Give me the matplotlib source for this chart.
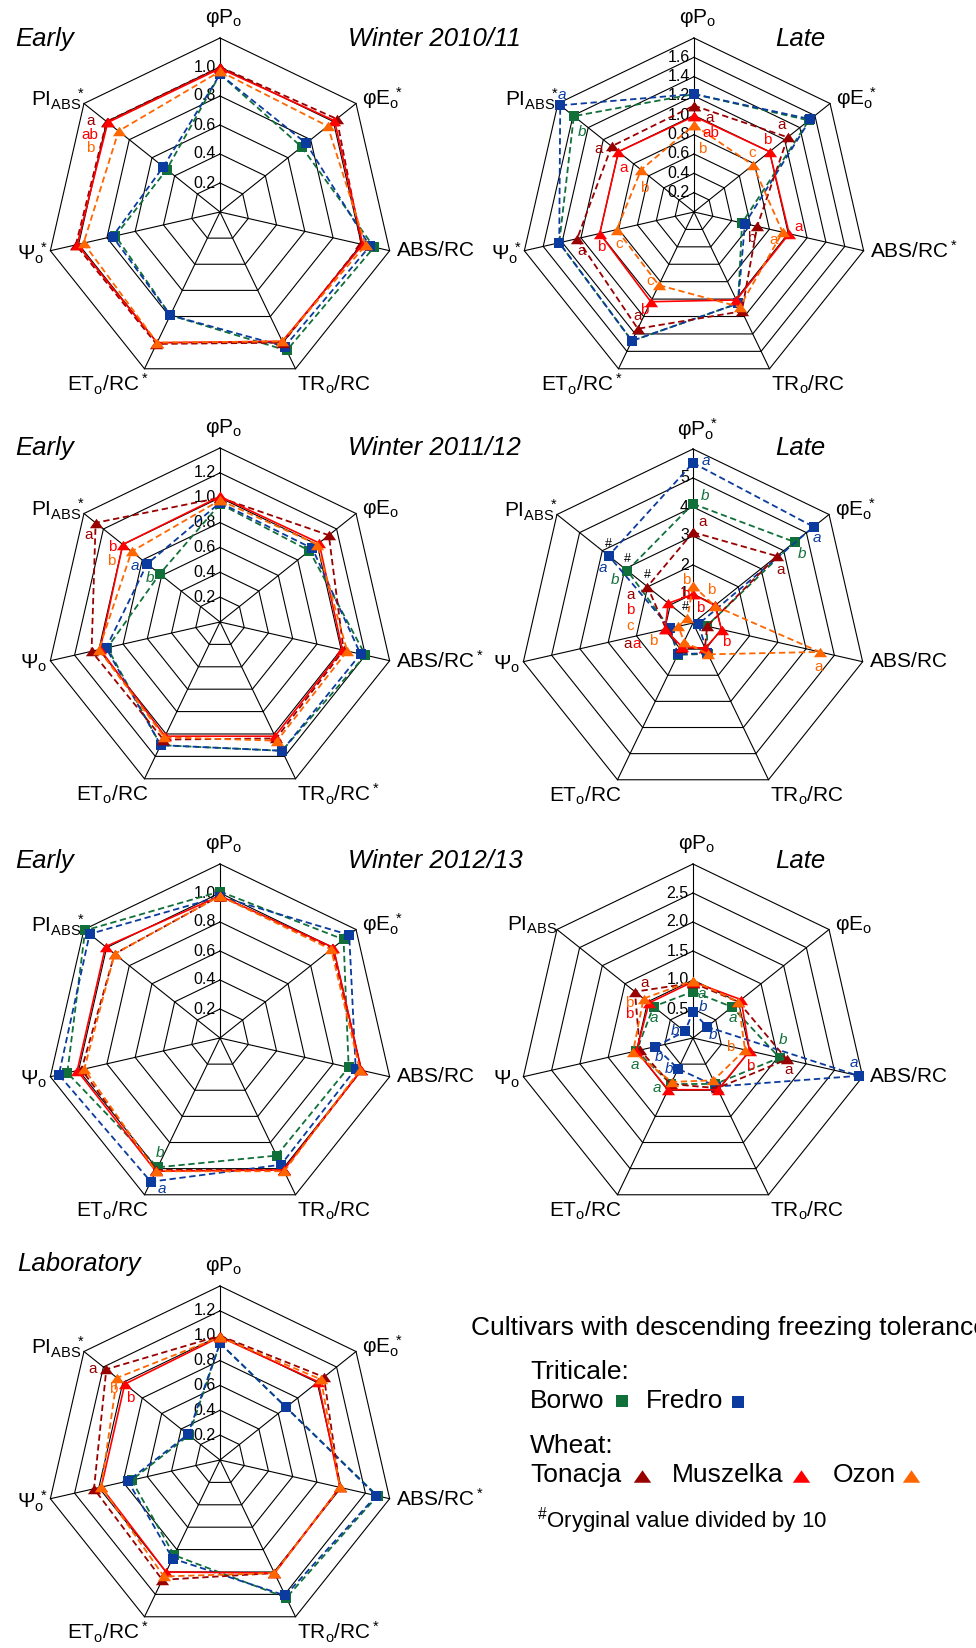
import numpy as np
import matplotlib.pyplot as plt
from matplotlib.lines import Line2D

plt.rcParams['font.family'] = ['Liberation Sans', 'DejaVu Sans']
plt.rcParams['mathtext.fontset'] = 'custom'
plt.rcParams['mathtext.rm'] = 'Liberation Sans'
plt.rcParams['mathtext.it'] = 'Liberation Sans:italic'
plt.rcParams['mathtext.default'] = 'regular'

W, H = 976, 1648
R = 174  # radius of the outer heptagon in pixels

# axes: φPo, φEo, ABS/RC, TRo/RC, ETo/RC, Ψo, PIABS (clockwise from the top)
# rows: Borwo, Fredro, Tonacja, Muszelka, Ozon
cultivars = ['Borwo', 'Fredro', 'Tonacja', 'Muszelka', 'Ozon']

early_1011 = [[0.95, 0.72, 1.09, 1.06, 0.79, 0.74, 0.47],
              [0.95, 0.76, 1.06, 1.03, 0.79, 0.76, 0.50],
              [1.00, 1.03, 1.00, 1.00, 1.01, 1.02, 1.00],
              [0.99, 1.01, 1.01, 0.99, 1.00, 1.01, 0.99],
              [0.97, 0.95, 1.03, 0.99, 1.00, 0.965, 0.895]]

late_1011 = [[1.22, 1.52, 0.51, 1.05, 1.48, 1.43, 1.59],
             [1.22, 1.54, 0.54, 1.05, 1.48, 1.43, 1.77],
             [1.10, 1.24, 0.67, 1.14, 1.34, 1.24, 1.09],
             [0.99, 1.00, 1.01, 1.01, 1.03, 1.00, 1.00],
             [0.90, 0.78, 0.94, 1.09, 0.84, 0.82, 0.70]]

early_1112 = [[0.95, 0.92, 1.20, 1.15, 1.10, 0.93, 0.62],
              [0.96, 0.95, 1.16, 1.15, 1.10, 0.94, 0.75],
              [1.00, 1.12, 1.02, 1.04, 1.05, 1.06, 1.28],
              [1.01, 1.02, 1.01, 1.02, 1.02, 0.99, 1.00],
              [0.98, 1.00, 1.05, 1.06, 1.03, 1.00, 0.91]]

late_1112 = [[4.11, 4.48, 0.48, 1.18, 1.22, 0.82, 2.90],
             [5.52, 5.32, 0.19, 1.15, 1.20, 0.81, 3.72],
             [3.13, 3.70, 0.50, 0.95, 0.97, 0.95, 2.01],
             [0.99, 0.97, 1.01, 0.97, 0.90, 0.99, 1.09],
             [1.29, 0.95, 4.48, 1.20, 0.71, 0.52, 0.25]]

early_1213 = [[1.01, 1.09, 0.91, 0.90, 0.99, 1.08, 1.19],
              [0.975, 1.14, 0.96, 0.97, 1.10, 1.14, 1.15],
              [0.98, 0.99, 1.00, 1.01, 1.01, 0.98, 0.93],
              [0.98, 1.00, 1.00, 1.01, 1.02, 1.01, 1.01],
              [0.98, 0.98, 0.99, 1.02, 1.02, 0.96, 0.93]]

late_1213 = [[0.80, 0.86, 1.53, 0.88, 0.88, 1.00, 0.87],
             [0.45, 0.31, 2.93, 0.93, 0.59, 0.67, 0.18],
             [0.95, 1.00, 1.66, 0.96, 0.88, 0.94, 1.28],
             [0.97, 1.06, 1.00, 0.99, 0.99, 1.00, 0.97],
             [0.99, 1.00, 0.92, 0.81, 0.84, 1.06, 1.09]]

laboratory = [[0.94, 0.68, 1.30, 1.23, 0.85, 0.73, 0.32],
              [0.94, 0.68, 1.29, 1.21, 0.88, 0.76, 0.33],
              [1.00, 1.07, 0.99, 1.01, 1.07, 1.04, 1.17],
              [0.99, 1.01, 0.99, 1.01, 1.00, 0.98, 0.98],
              [0.99, 1.04, 0.99, 1.01, 1.04, 0.98, 1.06]]

# significance letters: (cultivar, axis, letter, dx px, dy px downwards)
letters_early_1011 = [('Tonacja', 6, 'a', -16, -1), ('Muszelka', 6, 'ab', -18, 13), ('Ozon', 6, 'b', -28, 17)]
letters_late_1011 = [('Tonacja', 0, 'a', 16, 12), ('Muszelka', 0, 'ab', 17, 17), ('Ozon', 0, 'b', 8, 24),
                     ('Tonacja', 1, 'a', -6, -12), ('Muszelka', 1, 'b', -2, -12), ('Ozon', 1, 'c', -1, -12),
                     ('Muszelka', 2, 'a', 9, -7), ('Ozon', 2, 'a', -9, 8), ('Tonacja', 2, 'b', -6, 12),
                     ('Fredro', 6, 'a', 2, -10), ('Borwo', 6, 'b', 8, 16), ('Tonacja', 6, 'a', -13, 3),
                     ('Muszelka', 6, 'a', 5, 16), ('Ozon', 6, 'b', 3, 18),
                     ('Tonacja', 5, 'a', 4, 12), ('Muszelka', 5, 'b', 1, 13), ('Ozon', 5, 'c', 2, 14),
                     ('Tonacja', 4, 'a', 0, -13), ('Muszelka', 4, 'b', -7, 8), ('Ozon', 4, 'c', -9, -4)]
letters_early_1112 = [('Tonacja', 6, 'a', -7, 12), ('Muszelka', 6, 'b', -11, 2), ('Ozon', 6, 'b', -20, 10),
                      ('Fredro', 6, 'a', -12, 2), ('Borwo', 6, 'b', -10, 4)]
letters_late_1112 = [('Fredro', 0, 'a', 13, -2), ('Borwo', 0, 'b', 12, -8), ('Tonacja', 0, 'a', 10, -10),
                     ('Fredro', 1, 'a', 3, 11), ('Borwo', 1, 'b', 7, 12), ('Tonacja', 1, 'a', 4, 14),
                     ('Fredro', 6, 'a', -6, 12), ('Borwo', 6, 'b', -12, 9), ('Tonacja', 6, 'a', -17, 8),
                     ('Muszelka', 6, 'b', -38, 7), ('Ozon', 6, 'c', -57, 8),
                     ('Ozon', 0, 'b', -7, -6), ('Muszelka', 0, 'b', -8, 0),
                     ('Ozon', 1, 'b', -3, -16), ('Muszelka', 1, 'b', -15, 3),
                     ('Muszelka', 2, 'b', 5, 12), ('Ozon', 2, 'a', -1, 15),
                     ('Tonacja', 5, 'a', -39, 15), ('Muszelka', 5, 'a', -28, 15), ('Ozon', 5, 'b', -25, 15)]
hashes_late_1112 = [('Fredro', 6, 0, -12), ('Borwo', 6, 0, -12), ('Tonacja', 6, 0, -12), ('Ozon', 6, -2, -11)]
letters_early_1213 = [('Borwo', 4, 'b', 2, -14), ('Fredro', 4, 'a', 11, 7)]
letters_late_1213 = [('Tonacja', 6, 'a', 10, -9), ('Ozon', 6, 'b', -14, 4), ('Muszelka', 6, 'b', -20, 11),
                     ('Borwo', 6, 'a', 0, 11), ('Fredro', 6, 'b', -10, 0),
                     ('Borwo', 0, 'a', 9, 2), ('Fredro', 0, 'b', 10, -5),
                     ('Borwo', 1, 'a', 1, 11), ('Fredro', 1, 'b', 6, 8),
                     ('Borwo', 2, 'b', 4, -18), ('Tonacja', 2, 'a', 2, 11), ('Fredro', 2, 'a', -5, -13),
                     ('Muszelka', 2, 'b', 1, 15), ('Ozon', 2, 'b', -15, -3),
                     ('Fredro', 5, 'b', 4, 10), ('Borwo', 5, 'a', -2, 14),
                     ('Fredro', 4, 'b', -9, 0), ('Borwo', 4, 'a', -14, 4)]
letters_laboratory = [('Tonacja', 6, 'a', -14, 0), ('Ozon', 6, 'b', -4, 11), ('Muszelka', 6, 'b', 5, 14)]

colors = {'Borwo': '#11703a', 'Fredro': '#0b3b9e', 'Tonacja': '#990000',
          'Muszelka': '#ff0000', 'Ozon': '#ff6600'}
tri = [(-1, -0.72), (1, -0.72), (0, 0.72)]
angles = np.arange(7) * 2 * np.pi / 7

base_labels = ['φP_o', 'φE_o', 'ABS/RC', 'TR_o/RC', 'ET_o/RC', 'Ψ_o', 'PI_{ABS}']
# label placement (ha, dx px, dy px up) relative to the outer vertex
label_pos = [('center', 4, 20), ('left', 6, 5), ('left', 6, 0), ('left', 2, -16),
             ('right', 4, -16), ('right', -3, -3), ('right', 1, 4)]

fig = plt.figure(figsize=(W / 100, H / 100), dpi=100)


def radar(cx, cy, table, rmax, step, fmt, stars, letters, hashes=()):
    ax = fig.add_axes([(cx - R) / W, (H - cy - R) / H, 2 * R / W, 2 * R / H], projection='polar')
    ax.set_theta_zero_location('N')
    ax.set_theta_direction(-1)
    ax.set_ylim(0, rmax)
    ax.set_axis_off()
    closed = np.append(angles, angles[0])
    rings = np.arange(1, round(rmax / step) + 1) * step
    for v in rings:
        ax.plot(closed, np.full(8, v), color='black', lw=0.8, zorder=1, clip_on=False)
    for a in angles:
        ax.plot([a, a], [0, rmax], color='black', lw=0.8, zorder=1, clip_on=False)
    for v in rings[:-1]:
        ax.annotate(fmt.format(v), (0, v), xytext=(-3, 0), textcoords='offset points',
                    ha='right', va='center', fontsize=11.5, zorder=2)
    for k in range(7):
        ha, dx, dy = label_pos[k]
        star = ''
        if stars[k]:
            # put the asterisk after a trailing subscript, not above it
            star = '^*' if base_labels[k].endswith('RC') else r'\!\!{}^*'
        txt = '$' + base_labels[k] + star + '$'
        ax.annotate(txt, (angles[k], rmax), xytext=(dx * 0.72, dy * 0.72), textcoords='offset points',
                    ha=ha, va='center', fontsize=15, annotation_clip=False)
    for i, name in enumerate(cultivars):
        vals = np.append(table[i], table[i][0])
        if i < 2:
            ax.plot(closed, vals, color=colors[name], lw=1.3, ls=(0, (3.5, 2)), marker='s', ms=6.5,
                    mew=0, zorder=3 + i, clip_on=False)
        elif name == 'Muszelka':
            ax.plot(closed, vals, color=colors[name], lw=1.2, ls='-', marker=tri, ms=9.5,
                    mew=0, zorder=3 + i, clip_on=False)
        else:
            ax.plot(closed, vals, color=colors[name], lw=1.3, ls=(0, (3.5, 2)), marker=tri, ms=9.5,
                    mew=0, zorder=3 + i, clip_on=False)
    for name, k, let, dx, dy in letters:
        i = cultivars.index(name)
        ax.annotate(let, (angles[k], table[i][k]), xytext=(dx * 0.72, -dy * 0.72),
                    textcoords='offset points', ha='center', va='center', fontsize=11,
                    color=colors[name], style='italic' if i < 2 else 'normal', zorder=10,
                    annotation_clip=False)
    for name, k, dx, dy in hashes:
        i = cultivars.index(name)
        ax.annotate('#', (angles[k], table[i][k]), xytext=(dx * 0.72, -dy * 0.72),
                    textcoords='offset points', ha='center', va='center', fontsize=9, zorder=10)
    return ax


radar(220, 212, early_1011, 1.2, 0.2, '{:.1f}', [0, 1, 0, 0, 1, 1, 1], letters_early_1011)
radar(694, 212, late_1011, 1.8, 0.2, '{:.1f}', [0, 1, 1, 0, 1, 1, 1], letters_late_1011)
radar(220, 622, early_1112, 1.4, 0.2, '{:.1f}', [0, 0, 1, 1, 0, 0, 1], letters_early_1112)
radar(693, 623, late_1112, 6, 1, '{:.0f}', [1, 1, 0, 0, 0, 0, 1], letters_late_1112, hashes_late_1112)
radar(220, 1038, early_1213, 1.2, 0.2, '{:.1f}', [0, 1, 0, 0, 0, 0, 1], letters_early_1213)
radar(693, 1038, late_1213, 3.0, 0.5, '{:.1f}', [0, 0, 0, 0, 0, 0, 0], letters_late_1213)
radar(220, 1460, laboratory, 1.4, 0.2, '{:.1f}', [0, 1, 1, 1, 1, 1, 1], letters_laboratory)


def ftext(x, y, s, **kw):
    fig.text(x / W, 1 - y / H, s, va='baseline', **kw)


for y, left in [(46, 'Winter 2010/11'), (455, 'Winter 2011/12'), (868, 'Winter 2012/13')]:
    ftext(15, y, 'Early', fontsize=18.5, style='italic')
    ftext(348, y, left, fontsize=18.5, style='italic')
    ftext(775, y, 'Late', fontsize=18.5, style='italic')
ftext(17, 1271, 'Laboratory', fontsize=18.5, style='italic')

# legend
ftext(471, 1335, 'Cultivars with descending freezing tolerance', fontsize=19)
ftext(530, 1379, 'Triticale:', fontsize=19)
ftext(530, 1408, 'Borwo', fontsize=19)
ftext(646, 1408, 'Fredro', fontsize=19)
ftext(530, 1453, 'Wheat:', fontsize=19)
ftext(530, 1482, 'Tonacja', fontsize=19)
ftext(671.5, 1482, 'Muszelka', fontsize=19)
ftext(832.5, 1482, 'Ozon', fontsize=19)
ftext(537, 1528, r'$^{\#}$Oryginal value divided by 10', fontsize=16)

for name, x, y in [('Borwo', 622, 1401), ('Fredro', 738, 1402)]:
    fig.add_artist(Line2D([x / W], [1 - y / H], transform=fig.transFigure, marker='s', ms=8.5,
                          mew=0, color=colors[name], ls='none'))
for name, x, y in [('Tonacja', 642, 1476), ('Muszelka', 801, 1476), ('Ozon', 911, 1476)]:
    fig.add_artist(Line2D([x / W], [1 - y / H], transform=fig.transFigure, marker=tri, ms=12.5,
                          mew=0, color=colors[name], ls='none'))

fig.savefig('out.png', dpi=100)
